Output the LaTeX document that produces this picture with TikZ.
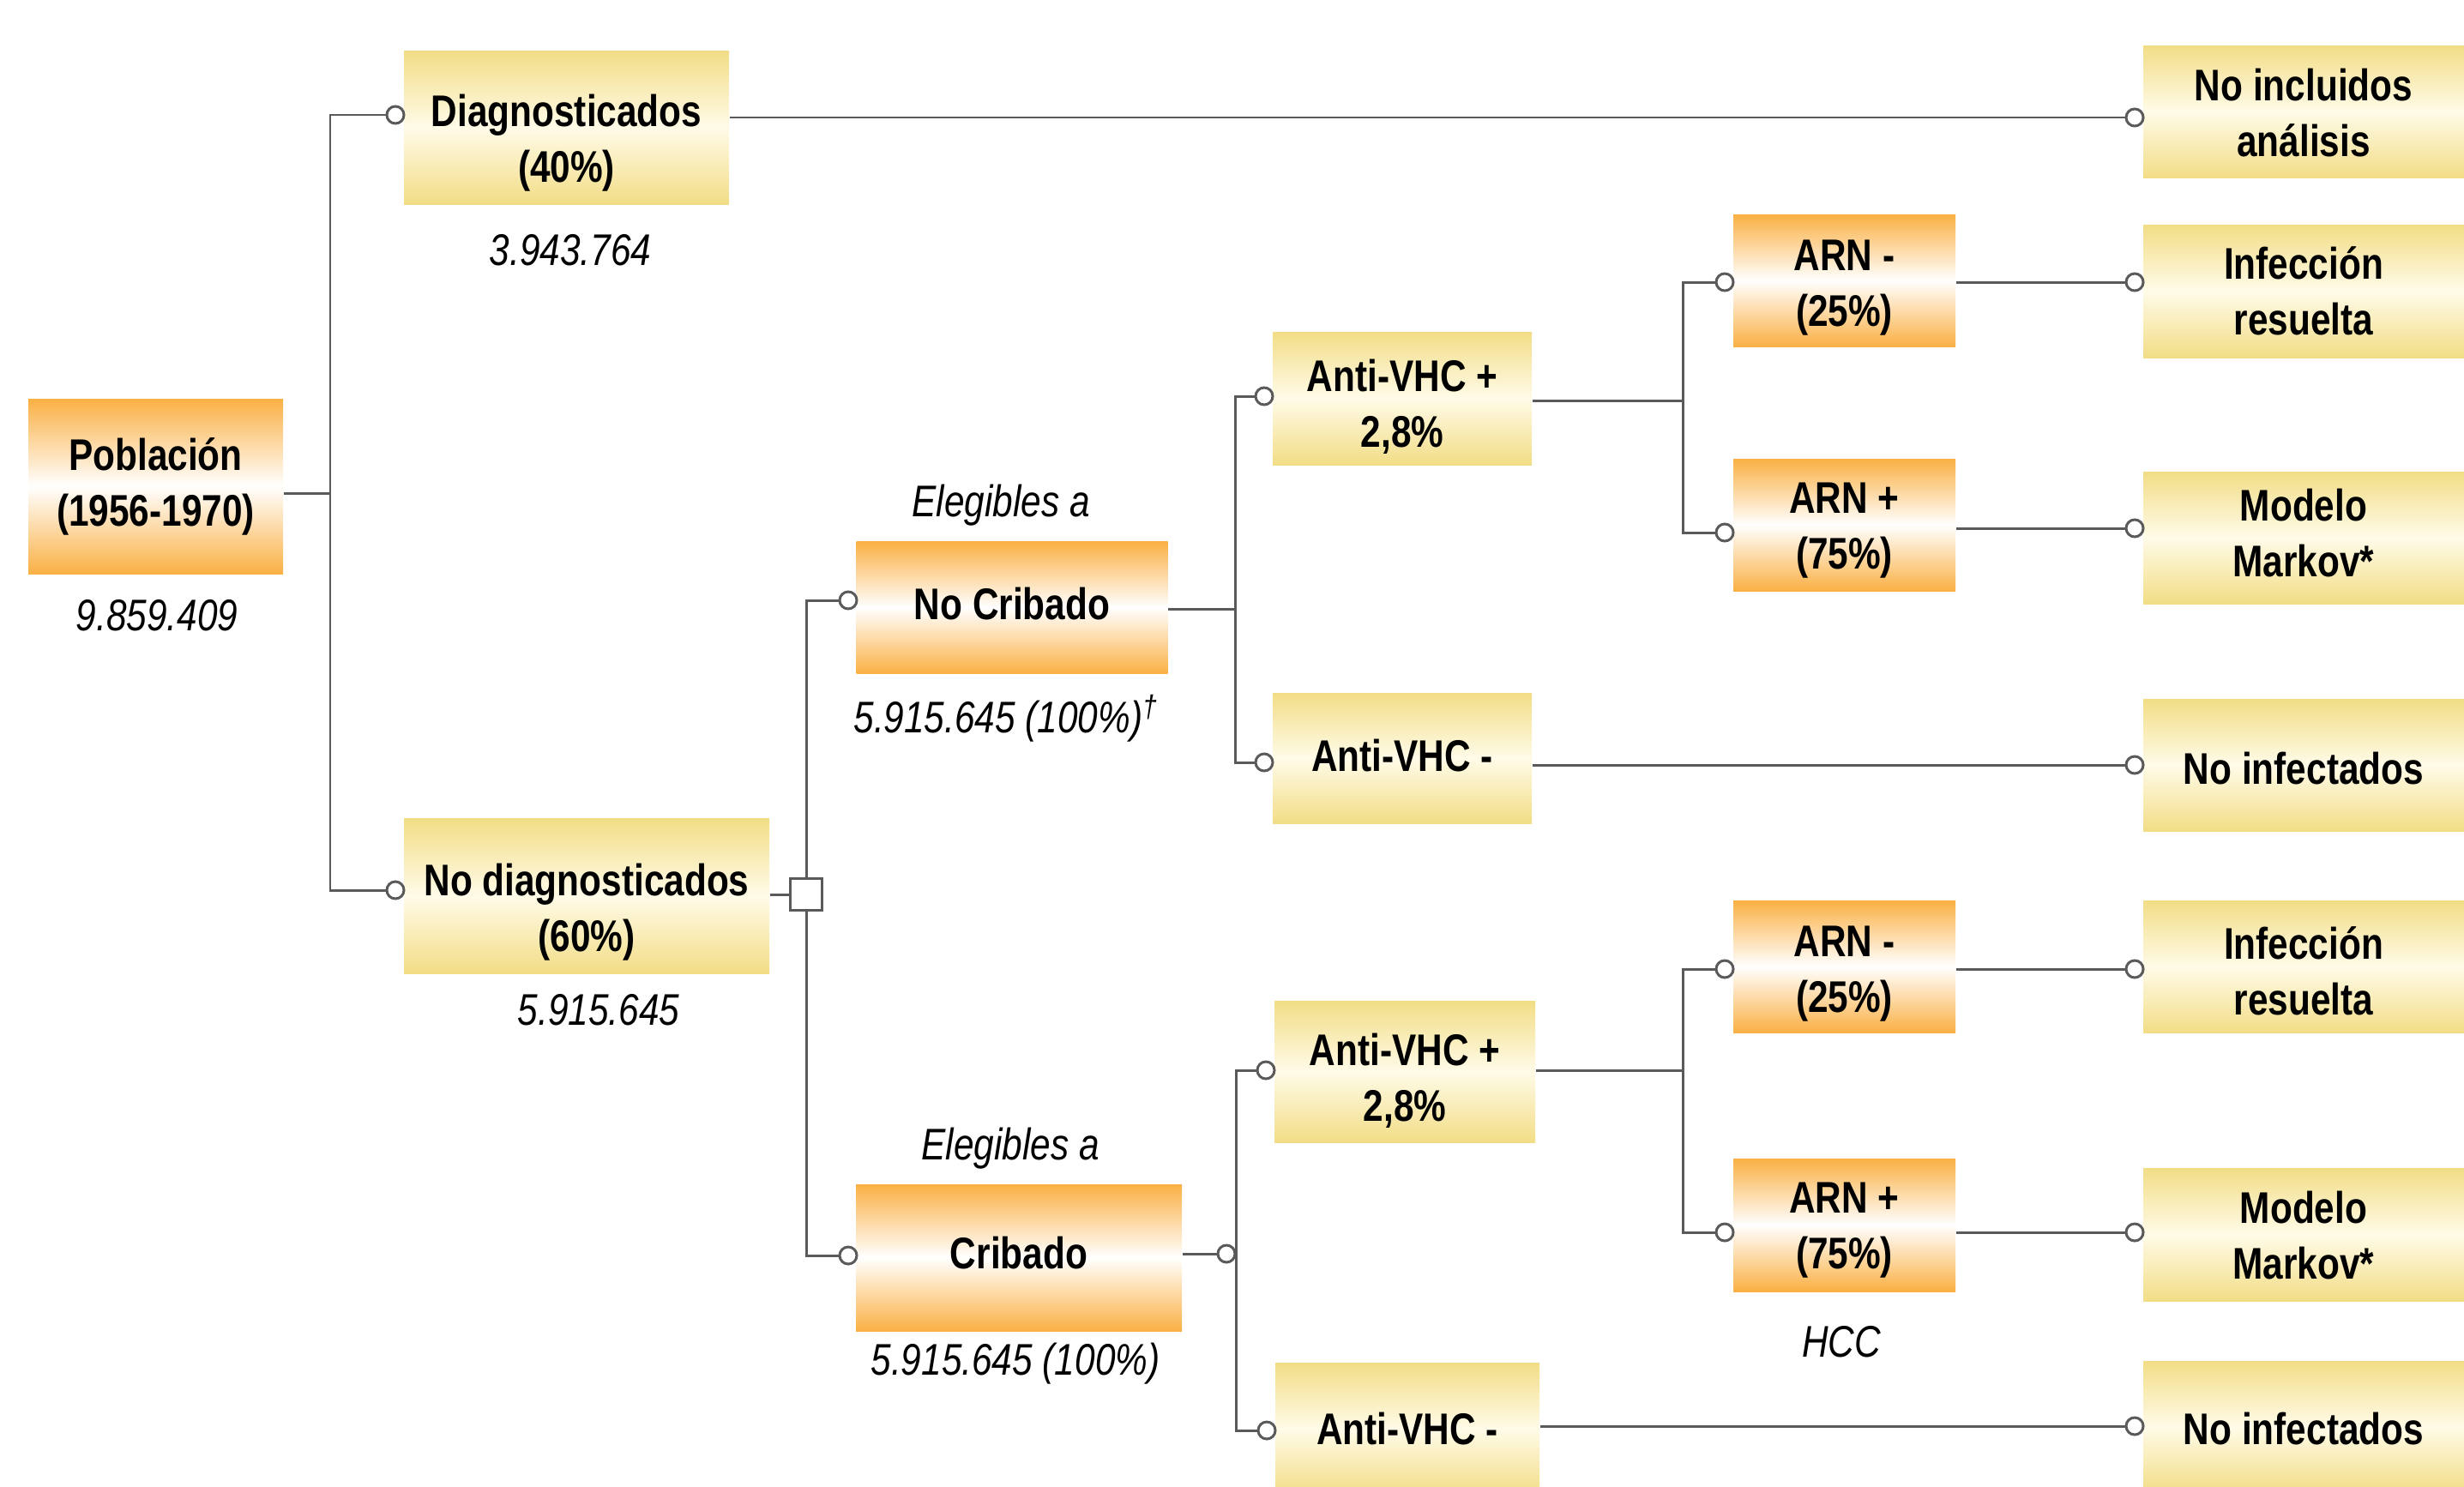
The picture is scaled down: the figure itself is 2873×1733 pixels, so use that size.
\documentclass[tikz,border=0pt]{standalone}
\usepackage{fontspec}
\setmainfont[FakeStretch=0.82]{Liberation Sans}
\usetikzlibrary{calc}
\definecolor{org}{RGB}{250,176,68}
\definecolor{yel}{RGB}{242,221,134}
\definecolor{yelmid}{RGB}{255,251,232}
\definecolor{ln}{RGB}{90,90,90}
\tikzset{
  box/.style={rectangle, inner sep=0pt},
  obox/.style={box, top color=org, bottom color=org, middle color=white},
  ybox/.style={box, top color=yel, bottom color=yel, middle color=yelmid},
  txt/.style={inner sep=0pt, align=center, font=\bfseries\fontsize{14.7}{18.5}\selectfont},
  lab/.style={font=\itshape\fontsize{14.7}{18}\selectfont, inner sep=0pt},
  conn/.style={draw=ln, line width=0.85pt},
  dot/.style={circle, draw=ln, fill=white, line width=0.85pt, inner sep=0pt, minimum size=2mm},
  sqr/.style={rectangle, draw=ln, fill=white, line width=0.85pt, inner sep=0pt, minimum size=3.7mm},
}
\begin{document}
\begin{tikzpicture}[x=0.1mm,y=-0.1mm]
\useasboundingbox (0,0) rectangle (2873,1733);
\clip (0,0) rectangle (2873,1733);

% ---- boxes (text as centred label, shifted down by a few px) ----
\node[obox, minimum width=29.7mm, minimum height=20.4mm, label={[txt]center:{Población\\(1956-1970)}}] (pob) at (181.5,567) {};
\node[ybox, minimum width=37.9mm, minimum height=17.9mm, label={[txt,yshift=-1.8mm]center:{Diagnosticados\\(40\%)}}] (diag) at (660.5,148.5) {};
\node[ybox, minimum width=42.6mm, minimum height=18.1mm, label={[txt,yshift=-1.9mm]center:{No diagnosticados\\(60\%)}}] (nodiag) at (684,1044.5) {};
\node[obox, minimum width=36.3mm, minimum height=15.4mm, label={[txt,yshift=0.4mm]center:{No Cribado}}] (nocrib) at (1180,708.5) {};
\node[obox, minimum width=38.0mm, minimum height=17.1mm, label={[txt,yshift=0.5mm]center:{Cribado}}] (crib) at (1188,1466.5) {};
\node[ybox, minimum width=30.2mm, minimum height=15.5mm, label={[txt,yshift=-1.0mm]center:{Anti-VHC +\\2,8\%}}] (avp1) at (1635,464.5) {};
\node[ybox, minimum width=30.2mm, minimum height=15.2mm, label={[txt,yshift=0.3mm]center:{Anti-VHC -}}] (avn1) at (1635,884) {};
\node[ybox, minimum width=30.4mm, minimum height=16.5mm, label={[txt,yshift=-1.1mm]center:{Anti-VHC +\\2,8\%}}] (avp2) at (1638,1249.5) {};
\node[ybox, minimum width=30.8mm, minimum height=15.4mm, label={[txt]center:{Anti-VHC -}}] (avn2) at (1641,1666) {};
\node[obox, minimum width=25.9mm, minimum height=15.4mm, label={[txt,yshift=-0.9mm]center:{ARN -\\(25\%)}}] (arnn1) at (2150.5,327) {};
\node[obox, minimum width=25.9mm, minimum height=15.4mm, label={[txt,yshift=-0.7mm]center:{ARN +\\(75\%)}}] (arnp1) at (2150.5,612) {};
\node[obox, minimum width=25.9mm, minimum height=15.4mm, label={[txt,yshift=-0.9mm]center:{ARN -\\(25\%)}}] (arnn2) at (2150.5,1127) {};
\node[obox, minimum width=25.9mm, minimum height=15.5mm, label={[txt,yshift=-0.6mm]center:{ARN +\\(75\%)}}] (arnp2) at (2150.5,1428.5) {};
\node[ybox, minimum width=37.4mm, minimum height=15.4mm, label={[txt,yshift=-0.2mm]center:{No incluidos\\análisis}}] (noinc) at (2686,130) {};
\node[ybox, minimum width=37.4mm, minimum height=15.5mm, label={[txt]center:{Infección\\resuelta}}] (infr1) at (2686,339.5) {};
\node[ybox, minimum width=37.4mm, minimum height=15.4mm, label={[txt,yshift=0.5mm]center:{Modelo\\Markov*}}] (mark1) at (2686,627) {};
\node[ybox, minimum width=37.4mm, minimum height=15.4mm, label={[txt,yshift=-0.4mm]center:{No infectados}}] (noinf1) at (2686,892) {};
\node[ybox, minimum width=37.4mm, minimum height=15.4mm, label={[txt,yshift=-0.5mm]center:{Infección\\resuelta}}] (infr2) at (2686,1127) {};
\node[ybox, minimum width=37.4mm, minimum height=15.5mm, label={[txt,yshift=-0.1mm]center:{Modelo\\Markov*}}] (mark2) at (2686,1439.5) {};
\node[ybox, minimum width=37.4mm, minimum height=15.4mm, label={[txt,yshift=-0.2mm]center:{No infectados}}] (noinf2) at (2686,1664) {};

% ---- labels ----
\node[lab] (l1) at (183,718) {9.859.409};
\node[lab] (l2) at (665,292) {3.943.764};
\node[lab] (l3) at (698,1178) {5.915.645};
\node[lab] (l4) at (1167,589) {Elegibles a};
\node[lab] (l5) at (1178,1339) {Elegibles a};
\node[lab] (l6) at (1173,838) {5.915.645 (100\%)\textsuperscript{†}};
\node[lab] (l7) at (1184,1590) {5.915.645 (100\%)};
\node[lab] (l8) at (2147,1565) {HCC};

% ---- junctions / chance nodes ----
\coordinate (j0) at (385,575);
\coordinate (j2) at (1440,710);
\coordinate (j3) at (1962,467);
\coordinate (j4) at (1962,1248);
\node[sqr] (sq) at (940,1043) {};

\node[dot] (cdiag) at (461,134) {};
\node[dot] (cnd) at (461,1038) {};
\node[dot] (cnc) at (989,700) {};
\node[dot] (ccr) at (989,1464) {};
\node[dot] (cavp1) at (1474,462) {};
\node[dot] (cavn1) at (1474,889) {};
\node[dot] (ccrib) at (1430,1462) {};
\node[dot] (cavp2) at (1476,1248) {};
\node[dot] (cavn2) at (1477,1668) {};
\node[dot] (carnn1) at (2011,329) {};
\node[dot] (carnp1) at (2011,621) {};
\node[dot] (carnn2) at (2011,1130) {};
\node[dot] (carnp2) at (2011,1437) {};
\node[dot] (cnoinc) at (2489,137) {};
\node[dot] (cinfr1) at (2489,329) {};
\node[dot] (cmark1) at (2489,616) {};
\node[dot] (cnoinf1) at (2489,892) {};
\node[dot] (cinfr2) at (2489,1130) {};
\node[dot] (cmark2) at (2489,1437) {};
\node[dot] (cnoinf2) at (2489,1663) {};

% ---- connectors ----
\draw[conn] (pob.east |- j0) -- (j0);
\draw[conn] (cdiag.west) -| (j0);
\draw[conn] (cnd.west) -| (j0);
\draw[conn] (diag.east |- cnoinc) -- (cnoinc.west);
\draw[conn] (nodiag.east |- sq) -- (sq.west);
\draw[conn] (cnc.west) -| (sq.north);
\draw[conn] (ccr.west) -| (sq.south);
\draw[conn] (nocrib.east |- j2) -- (j2);
\draw[conn] (cavp1.west) -| (j2);
\draw[conn] (cavn1.west) -| (j2);
\draw[conn] (crib.east |- ccrib) -- (ccrib.west);
\draw[conn] (cavp2.west) -| (ccrib.east);
\draw[conn] (cavn2.west) -| (ccrib.east);
\draw[conn] (avp1.east |- j3) -- (j3);
\draw[conn] (carnn1.west) -| (j3);
\draw[conn] (carnp1.west) -| (j3);
\draw[conn] (avp2.east |- j4) -- (j4);
\draw[conn] (carnn2.west) -| (j4);
\draw[conn] (carnp2.west) -| (j4);
\draw[conn] (avn1.east |- cnoinf1) -- (cnoinf1.west);
\draw[conn] (arnn1.east |- cinfr1) -- (cinfr1.west);
\draw[conn] (arnp1.east |- cmark1) -- (cmark1.west);
\draw[conn] (arnn2.east |- cinfr2) -- (cinfr2.west);
\draw[conn] (arnp2.east |- cmark2) -- (cmark2.west);
\draw[conn] (avn2.east |- cnoinf2) -- (cnoinf2.west);
\end{tikzpicture}
\end{document}
